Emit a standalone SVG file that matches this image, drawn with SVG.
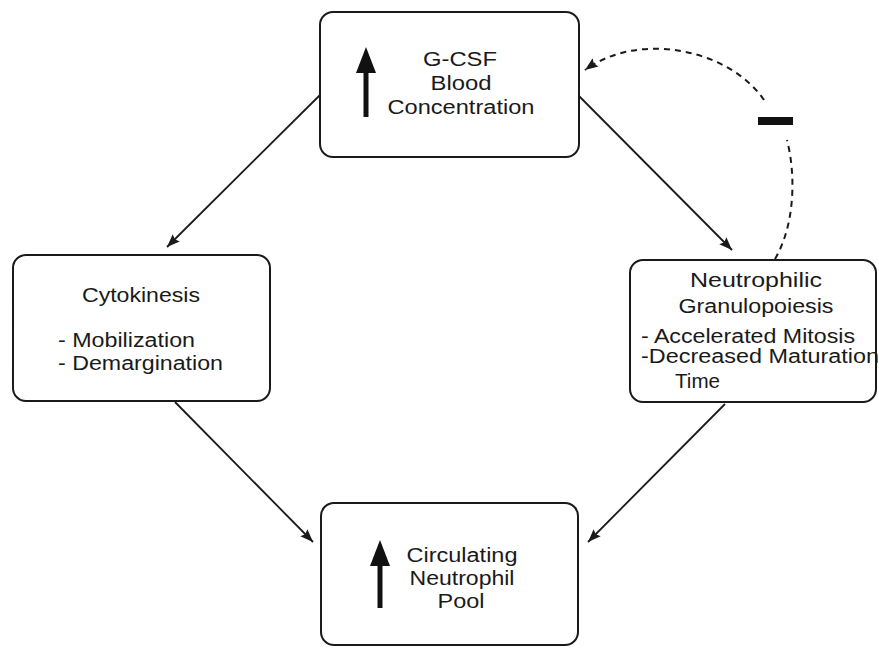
<svg xmlns="http://www.w3.org/2000/svg" width="879" height="648" viewBox="0 0 879 648">
<style>
.box{fill:#fff;stroke:#1a1a1a;stroke-width:2}
.t{font-family:"Liberation Sans",Arial,sans-serif;font-size:20px;fill:#1a1a1a}
.c{text-anchor:middle}
.ln{fill:none;stroke:#1a1a1a;stroke-width:1.8}
.dash{fill:none;stroke:#1a1a1a;stroke-width:2;stroke-dasharray:6 5}
</style>
<defs>
<marker id="ah" viewBox="0 0 13 10" refX="13" refY="5" markerWidth="13" markerHeight="10" markerUnits="userSpaceOnUse" orient="auto" overflow="visible">
<path d="M0,0 L13,5 L0,10 L2,5 Z" fill="#1a1a1a"/>
</marker>
</defs>
<rect width="879" height="648" fill="#fff"/>
<g id="connectors">
<line class="ln" x1="320" y1="95" x2="167" y2="247" marker-end="url(#ah)"/>
<line class="ln" x1="578" y1="95" x2="732" y2="250" marker-end="url(#ah)"/>
<line class="ln" x1="175" y1="402" x2="313" y2="542" marker-end="url(#ah)"/>
<line class="ln" x1="725" y1="404" x2="588" y2="542" marker-end="url(#ah)"/>
<path class="dash" d="M775,259 C795,225 796,175 787,140"/>
<path class="dash" d="M764,100 C730,50 640,30 585,70" marker-end="url(#ah)"/>
<rect x="758" y="117" width="35" height="8" fill="#111"/>
</g>
<g id="gcsf">
<rect class="box" x="320" y="12" width="259" height="145" rx="13"/>
<path d="M366,117 L366,70" stroke="#111" stroke-width="5"/>
<path d="M356,73 L366,47 L376,73 Z" fill="#111"/>
<text class="t c" x="460" y="66" textLength="74" lengthAdjust="spacingAndGlyphs">G-CSF</text>
<text class="t c" x="461" y="90" textLength="61" lengthAdjust="spacingAndGlyphs">Blood</text>
<text class="t c" x="461" y="114" textLength="147" lengthAdjust="spacingAndGlyphs">Concentration</text>
</g>
<g id="cytokinesis">
<rect class="box" x="13" y="255" width="257" height="146" rx="13"/>
<text class="t c" x="141" y="302" textLength="118" lengthAdjust="spacingAndGlyphs">Cytokinesis</text>
<text class="t" x="58" y="347" textLength="137" lengthAdjust="spacingAndGlyphs">- Mobilization</text>
<text class="t" x="58" y="370" textLength="165" lengthAdjust="spacingAndGlyphs">- Demargination</text>
</g>
<g id="granulopoiesis">
<rect class="box" x="630" y="260" width="246" height="142" rx="13"/>
<text class="t c" x="756" y="287" textLength="132" lengthAdjust="spacingAndGlyphs">Neutrophilic</text>
<text class="t c" x="756" y="313" textLength="155" lengthAdjust="spacingAndGlyphs">Granulopoiesis</text>
<text class="t" x="641" y="343" textLength="214" lengthAdjust="spacingAndGlyphs">- Accelerated Mitosis</text>
<text class="t" x="641" y="363" textLength="238" lengthAdjust="spacingAndGlyphs">-Decreased Maturation</text>
<text class="t" x="675" y="388" textLength="45" lengthAdjust="spacingAndGlyphs">Time</text>
</g>
<g id="pool">
<rect class="box" x="321" y="503" width="257" height="142" rx="13"/>
<path d="M380,608 L380,562" stroke="#111" stroke-width="5"/>
<path d="M370,566 L380,540 L390,566 Z" fill="#111"/>
<text class="t c" x="462" y="562" textLength="111" lengthAdjust="spacingAndGlyphs">Circulating</text>
<text class="t c" x="462" y="585" textLength="105" lengthAdjust="spacingAndGlyphs">Neutrophil</text>
<text class="t c" x="461" y="608" textLength="47" lengthAdjust="spacingAndGlyphs">Pool</text>
</g>
</svg>
